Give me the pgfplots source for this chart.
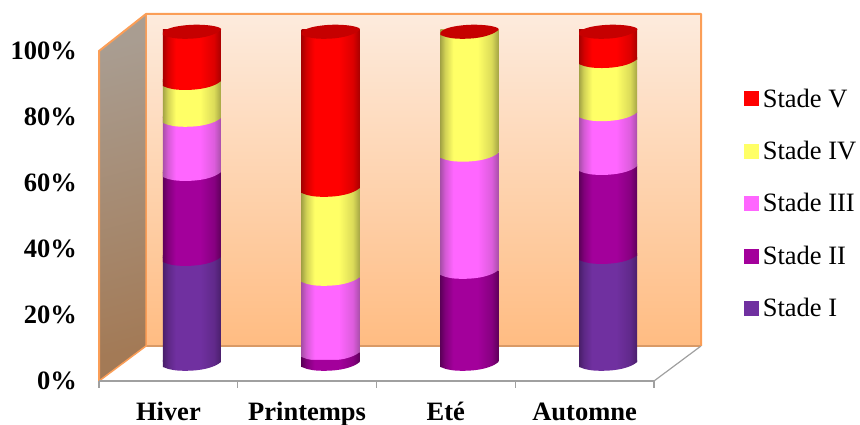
\documentclass[border=0pt]{standalone}
\usepackage{fontspec}
\setmainfont{Liberation Serif}
\usepackage{pgfplots}
\pgfplotsset{compat=1.18}
\definecolor{wallor}{HTML}{FB9E57}
\definecolor{axgrey}{HTML}{A0A0A0}
\definecolor{backtop}{HTML}{FDEBDD}
\definecolor{backbot}{HTML}{FFBC82}
\definecolor{lefttop}{HTML}{A99D91}
\definecolor{leftbot}{HTML}{A37A56}
\definecolor{floorback}{HTML}{D99A66}
\definecolor{cI}{HTML}{7030A0}\definecolor{dI}{HTML}{4A1F6B}
\definecolor{cII}{HTML}{A3009B}\definecolor{dII}{HTML}{5E005A}
\definecolor{cIII}{HTML}{FF66FF}\definecolor{dIII}{HTML}{A94FA9}
\definecolor{cIV}{HTML}{FFFF66}\definecolor{dIV}{HTML}{A5A545}
\definecolor{cV}{HTML}{FF0000}\definecolor{dV}{HTML}{A80000}
\definecolor{capc}{HTML}{C60000}
\newcommand\declcyl[1]{\pgfdeclarehorizontalshading{cyl#1}{100bp}{color(0bp)=(d#1); color(25bp)=(d#1); color(29bp)=(d#1!50!c#1); color(36bp)=(c#1); color(57bp)=(c#1); color(69bp)=(d#1!40!c#1); color(75bp)=(d#1); color(100bp)=(d#1)}}
\declcyl{I}\declcyl{II}\declcyl{III}\declcyl{IV}\declcyl{V}
% curved lower rim of a segment, at a stack level
\newcommand\rim[3]{\shade[shift={(axis cs:#2,#3)},shading=cyl#1,x=1pt,y=1pt] (-29,-5) .. controls (-22,-8.2) and (-15,-8.8) .. (-6,-8.8) .. controls (8,-8.8) and (22,-6) .. (29,0) -- (29,2) -- (-29,2) -- cycle;}
\newcommand\topcap[1]{\fill[shift={(axis cs:#1,100)},capc,x=1pt,y=1pt] (-29,-5) .. controls (-22,-8.2) and (-15,-8.8) .. (-6,-8.8) .. controls (8,-8.8) and (22,-6) .. (29,0) .. controls (31,3) and (18,5.3) .. (5,5.3) .. controls (-10,5.3) and (-32,2) .. (-29,-5) -- cycle;}
\newcommand\legsq[1]{\fill[#1] (0pt,-7pt) rectangle (14pt,7pt);}
\pgfplotsset{
  barax/.style={
    at={(122.6pt,63pt)},anchor=south west,
    scale only axis,width=555pt,height=332pt,
    xmin=-0.5,xmax=3.5,ymin=0,ymax=100,
    hide axis,clip=false,
    ybar stacked,bar width=58pt,
  },
  seg/.style={draw=none,shade,shading=cyl#1,forget plot},
}
\begin{document}
\begin{tikzpicture}
\clip (0,0) rectangle (860pt,425pt);
\begin{scope}[x=1pt,y=1pt]
\shade[top color=backtop,bottom color=backbot] (146,79) rectangle (701,411);
\shade[top color=lefttop,bottom color=leftbot,shading angle=15] (99,44) -- (99,374) -- (146,411) -- (146,79) -- cycle;
\draw[floorback,line width=1.2pt] (146,79) -- (701,79);
\draw[wallor,line width=2pt,line join=round] (99,44) -- (99,374) -- (146,411) -- (701,411) -- (701,79);
\draw[wallor,line width=1.5pt] (146,411) -- (146,79) -- (99,44);
\draw[axgrey,line width=1.2pt] (654,44) -- (701,79);
\end{scope}
\begin{axis}[
  at={(99pt,44pt)},anchor=south west,
  scale only axis,width=555pt,height=330pt,
  xmin=0,xmax=4,ymin=0,ymax=100,
  axis x line*=bottom,axis y line*=left,
  y axis line style={draw=none},
  x axis line style={draw=axgrey,line width=1.2pt,-},
  xtick={0.5,1.5,2.5,3.5},
  xticklabels={Hiver,Printemps,Eté,Automne},
  minor xtick={0,1,2,3,4},
  ytick={0,20,40,60,80,100},
  yticklabels={0\%,20\%,40\%,60\%,80\%,100\%},
  major tick length=0pt,
  minor tick length=7pt,
  xtick style={draw=none},
  minor x tick style={draw=axgrey,line width=1.2pt},
  tick align=outside,
  ytick style={draw=none},
  tick label style={font=\fontsize{26.5}{28}\selectfont\bfseries},
  yticklabel style={anchor=east,xshift=-18.5pt},
  xticklabel style={anchor=base,yshift=-40pt},
]
\end{axis}
% Hiver
\begin{axis}[barax]
\addplot[seg=I] coordinates {(0,31.6)};
\addplot[seg=II] coordinates {(0,25.6)};
\addplot[seg=III] coordinates {(0,16.3)};
\addplot[seg=IV] coordinates {(0,11.1)};
\addplot[seg=V] coordinates {(0,15.4)};
\end{axis}
% Printemps
\begin{axis}[barax]
\addplot[seg=II] coordinates {(1,3.0)};
\addplot[seg=III] coordinates {(1,22.6)};
\addplot[seg=IV] coordinates {(1,26.8)};
\addplot[seg=V] coordinates {(1,47.6)};
\end{axis}
% Ete
\begin{axis}[barax]
\addplot[seg=II] coordinates {(2,27.7)};
\addplot[seg=III] coordinates {(2,35.3)};
\addplot[seg=IV] coordinates {(2,37.0)};
\end{axis}
% Automne, with the legend
\begin{axis}[barax,
  reverse legend,
  legend style={at={(1.12,0.83)},anchor=north west,draw=none,fill=none,inner sep=0pt,
    font=\fontsize{26.5}{28}\selectfont,row sep=28.5pt,column sep=2pt,
    legend cell align=left},
]
\addplot[seg=I] coordinates {(3,32.2)};
\addplot[seg=II] coordinates {(3,26.8)};
\addplot[seg=III] coordinates {(3,16.2)};
\addplot[seg=IV] coordinates {(3,16.0)};
\addplot[seg=V] coordinates {(3,8.8)};
\addlegendimage{legend image code/.code={\legsq{cI}}}\addlegendentry{Stade I}
\addlegendimage{legend image code/.code={\legsq{cII}}}\addlegendentry{Stade II}
\addlegendimage{legend image code/.code={\legsq{cIII}}}\addlegendentry{Stade III}
\addlegendimage{legend image code/.code={\legsq{cIV}}}\addlegendentry{Stade IV}
\addlegendimage{legend image code/.code={\legsq{cV}}}\addlegendentry{Stade V}
\end{axis}
% curved rims and caps of the cylinders, above the bars
\begin{axis}[barax]
\rim{I}{0}{0}\rim{II}{0}{31.6}\rim{III}{0}{57.2}\rim{IV}{0}{73.5}\rim{V}{0}{84.6}\topcap{0}
\rim{II}{1}{0}\rim{III}{1}{3}\rim{IV}{1}{25.6}\rim{V}{1}{52.4}\topcap{1}
\rim{II}{2}{0}\rim{III}{2}{27.7}\rim{IV}{2}{63}\topcap{2}
\rim{I}{3}{0}\rim{II}{3}{32.2}\rim{III}{3}{59}\rim{IV}{3}{75.2}\rim{V}{3}{91.2}\topcap{3}
\end{axis}
\end{tikzpicture}
\end{document}
